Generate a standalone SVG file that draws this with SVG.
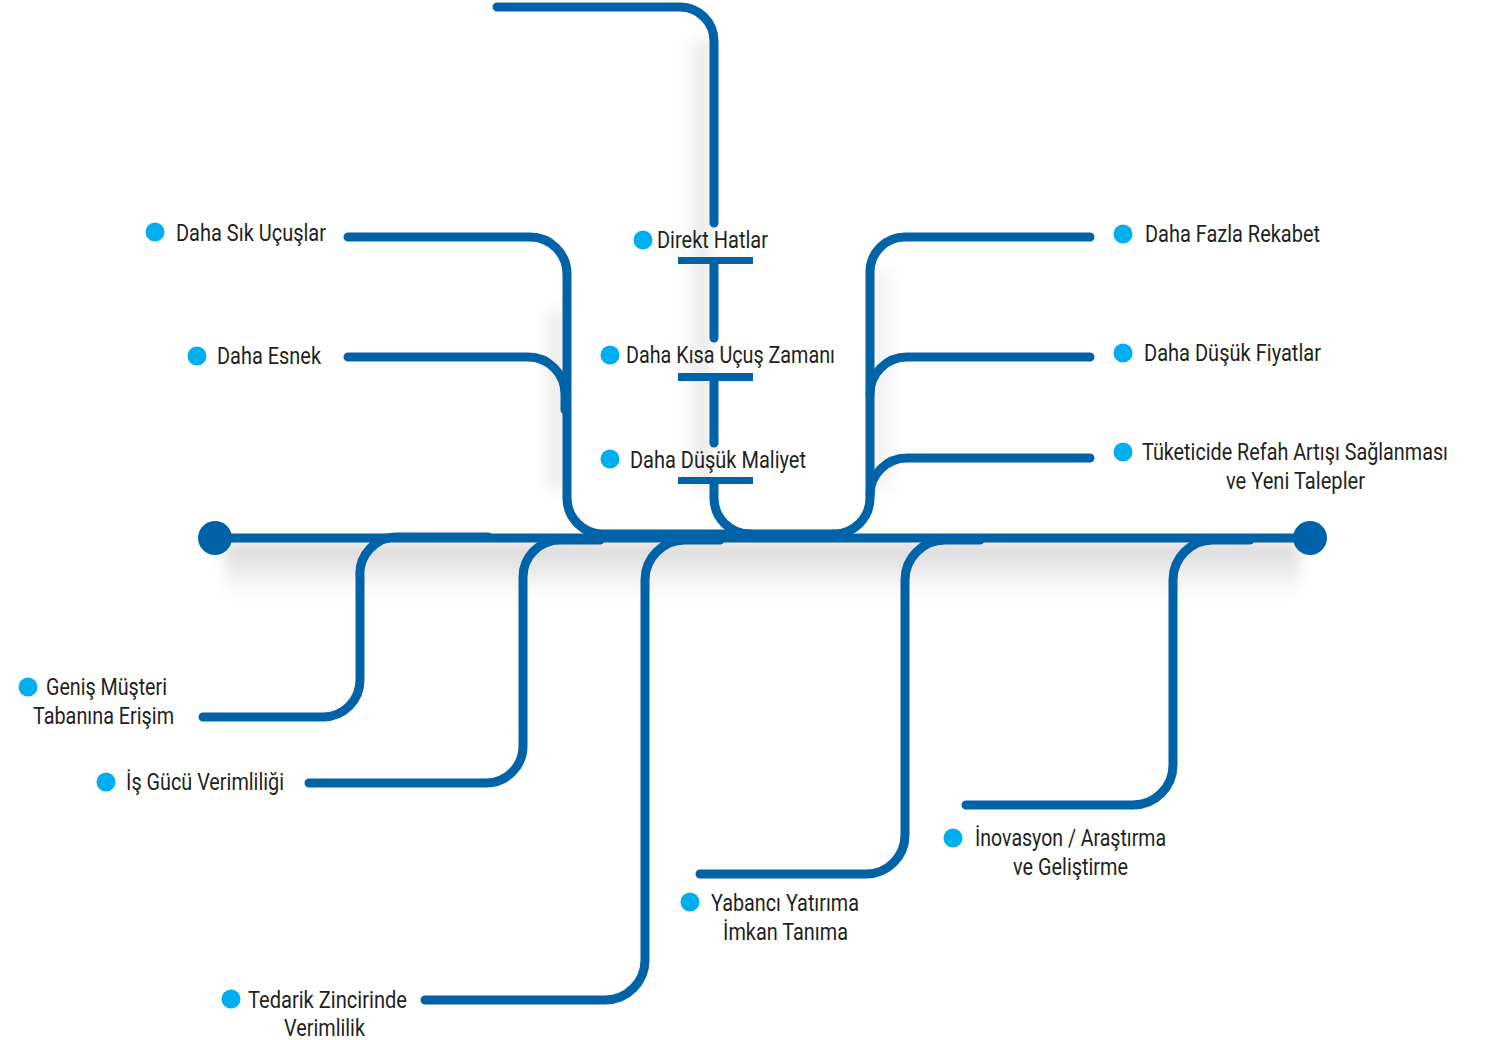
<svg xmlns="http://www.w3.org/2000/svg" width="1502" height="1040" viewBox="0 0 1502 1040">
<style>
.ln{fill:none;stroke:#0062a7;stroke-width:9;stroke-linecap:round;stroke-linejoin:round}
.bar{fill:#0062a7}
.dot{fill:#00aeef}
.t{font-family:"Liberation Sans Narrow","Roboto","Liberation Sans",sans-serif;font-size:23px;fill:#231f20}
</style>
<defs>
<linearGradient id="shB" x1="0" y1="0" x2="0" y2="1"><stop offset="0" stop-color="#000" stop-opacity="0.16"/><stop offset="1" stop-color="#000" stop-opacity="0"/></linearGradient>
<linearGradient id="shL" x1="1" y1="0" x2="0" y2="0"><stop offset="0" stop-color="#000" stop-opacity="0.12"/><stop offset="1" stop-color="#000" stop-opacity="0"/></linearGradient>
<linearGradient id="shR" x1="0" y1="0" x2="1" y2="0"><stop offset="0" stop-color="#000" stop-opacity="0.08"/><stop offset="1" stop-color="#000" stop-opacity="0"/></linearGradient>
<filter id="soft" x="-20%" y="-20%" width="140%" height="140%"><feGaussianBlur stdDeviation="7"/></filter>
</defs>
<rect width="1502" height="1040" fill="#fff"/>
<g id="shadows" filter="url(#soft)">
<rect x="225" y="542" width="1075" height="55" fill="url(#shB)"/>
<rect x="684" y="40" width="26" height="450" fill="url(#shL)"/>
<rect x="542" y="310" width="21" height="180" fill="url(#shL)"/>
<rect x="874" y="270" width="24" height="220" fill="url(#shR)"/>
</g>
<g id="connectors">
<path class="ln" d="M215,538 H1310"/>
<path class="ln" d="M497,7 H680 A34,34 0 0 1 714,41 V223"/>
<path class="ln" d="M714,262 V338"/>
<path class="ln" d="M714,378 V443"/>
<path class="ln" d="M714,482 V498 A36,36 0 0 0 750,534 H834"/>
<path class="ln" d="M348,237 H530 A37,37 0 0 1 567,274 V498 A36,36 0 0 0 603,534 H750"/>
<path class="ln" d="M348,357 H528 A37,37 0 0 1 565,394 V410"/>
<path class="ln" d="M1090,237 H905 A35,35 0 0 0 870,272 V498 A36,36 0 0 1 834,534"/>
<path class="ln" d="M1090,357 H907 A37,37 0 0 0 870,394"/>
<path class="ln" d="M1090,458 H907 A37,37 0 0 0 870,495"/>
<path class="ln" d="M203,717 H323 A37,37 0 0 0 360,680 V577 A37,37 0 0 1 397,537 H488"/>
<path class="ln" d="M309,783 H486 A37,37 0 0 0 523,746 V577 A37,37 0 0 1 560,540 H600"/>
<path class="ln" d="M425,1000 H605 A40,40 0 0 0 645,960 V580 A40,40 0 0 1 685,540 H720"/>
<path class="ln" d="M700,874 H866 A39,39 0 0 0 905,835 V580 A40,40 0 0 1 945,540 H980"/>
<path class="ln" d="M966,805 H1133 A40,40 0 0 0 1173,765 V580 A40,40 0 0 1 1213,540 H1250"/>
<rect class="bar" x="678" y="257" width="75" height="7"/>
<rect class="bar" x="678" y="373" width="75" height="8"/>
<rect class="bar" x="678" y="477" width="75" height="7"/>
<circle class="bar" cx="215" cy="538" r="17"/>
<circle class="bar" cx="1310" cy="538" r="17"/>
</g>
<g id="n-daha-sik"><circle class="dot" cx="155" cy="232" r="9.5"/><text class="t" x="176" y="241" textLength="150" lengthAdjust="spacingAndGlyphs">Daha Sık Uçuşlar</text></g>
<g id="n-daha-esnek"><circle class="dot" cx="197" cy="356" r="9.5"/><text class="t" x="217" y="364" textLength="104" lengthAdjust="spacingAndGlyphs">Daha Esnek</text></g>
<g id="n-direkt"><circle class="dot" cx="643" cy="240" r="9.5"/><text class="t" x="657" y="248" textLength="111" lengthAdjust="spacingAndGlyphs">Direkt Hatlar</text></g>
<g id="n-kisa"><circle class="dot" cx="610" cy="355" r="9.5"/><text class="t" x="626" y="363" textLength="209" lengthAdjust="spacingAndGlyphs">Daha Kısa Uçuş Zamanı</text></g>
<g id="n-maliyet"><circle class="dot" cx="610" cy="459" r="9.5"/><text class="t" x="630" y="468" textLength="176" lengthAdjust="spacingAndGlyphs">Daha Düşük Maliyet</text></g>
<g id="n-rekabet"><circle class="dot" cx="1123" cy="234" r="9.5"/><text class="t" x="1145" y="242" textLength="175" lengthAdjust="spacingAndGlyphs">Daha Fazla Rekabet</text></g>
<g id="n-fiyatlar"><circle class="dot" cx="1123" cy="353" r="9.5"/><text class="t" x="1144" y="361" textLength="177" lengthAdjust="spacingAndGlyphs">Daha Düşük Fiyatlar</text></g>
<g id="n-refah"><circle class="dot" cx="1123" cy="452" r="9.5"/><text class="t" x="1142" y="460" textLength="306" lengthAdjust="spacingAndGlyphs">Tüketicide Refah Artışı Sağlanması</text><text class="t" x="1226" y="489" textLength="139" lengthAdjust="spacingAndGlyphs">ve Yeni Talepler</text></g>
<g id="n-genis"><circle class="dot" cx="28" cy="687" r="9.5"/><text class="t" x="46" y="695" textLength="121" lengthAdjust="spacingAndGlyphs">Geniş Müşteri</text><text class="t" x="33" y="724" textLength="141" lengthAdjust="spacingAndGlyphs">Tabanına Erişim</text></g>
<g id="n-isgucu"><circle class="dot" cx="106" cy="782" r="9.5"/><text class="t" x="126" y="790" textLength="158" lengthAdjust="spacingAndGlyphs">İş Gücü Verimliliği</text></g>
<g id="n-tedarik"><circle class="dot" cx="231" cy="999" r="9.5"/><text class="t" x="248" y="1008" textLength="159" lengthAdjust="spacingAndGlyphs">Tedarik Zincirinde</text><text class="t" x="284" y="1036" textLength="81" lengthAdjust="spacingAndGlyphs">Verimlilik</text></g>
<g id="n-yabanci"><circle class="dot" cx="690" cy="902" r="9.5"/><text class="t" x="711" y="911" textLength="148" lengthAdjust="spacingAndGlyphs">Yabancı Yatırıma</text><text class="t" x="723" y="940" textLength="125" lengthAdjust="spacingAndGlyphs">İmkan Tanıma</text></g>
<g id="n-inovasyon"><circle class="dot" cx="953" cy="838" r="9.5"/><text class="t" x="975" y="846" textLength="191" lengthAdjust="spacingAndGlyphs">İnovasyon / Araştırma</text><text class="t" x="1013" y="875" textLength="115" lengthAdjust="spacingAndGlyphs">ve Geliştirme</text></g>
</svg>
